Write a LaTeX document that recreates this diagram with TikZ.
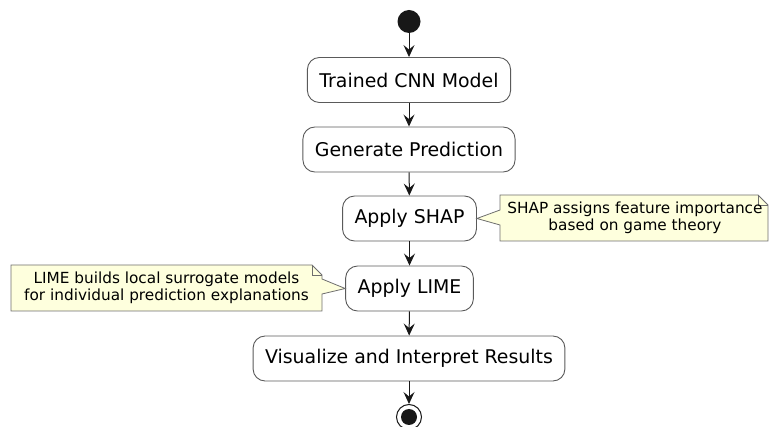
\documentclass[tikz,border=0pt]{standalone}
\usepackage{fontspec}
\setmainfont{DejaVu Sans}
\usetikzlibrary{arrows.meta,calc}

\definecolor{linecol}{HTML}{181818}
\definecolor{boxedge}{HTML}{5A5A5A}
\definecolor{notefill}{HTML}{FEFFDD}
\definecolor{noteedge}{HTML}{6E6E6E}

\tikzset{
  action/.style={draw=boxedge, line width=0.9pt, fill=white, rounded corners=12pt,
    inner xsep=12pt, minimum height=45pt,
    font=\fontsize{18.9pt}{22pt}\selectfont, text=black},
  notetext/.style={inner sep=0pt, align=center,
    font=\fontsize{15.3pt}{17.5pt}\selectfont, text=black},
  noteshape/.style={draw=noteedge, line width=0.8pt, fill=notefill, line join=miter},
  flow/.style={draw=linecol, line width=1pt,
    -{Stealth[length=12pt, width=11pt, inset=4.5pt]}},
  dot/.style={circle, fill=linecol, inner sep=0pt},
}

\begin{document}
\begin{tikzpicture}[x=1pt, y=-1pt]
\useasboundingbox (0,0) rectangle (769,427);

% start and end markers
\node[dot, minimum size=23pt] (start) at (409,21.5) {};
\node[circle, draw=linecol, line width=1pt, minimum size=25pt, inner sep=0pt] (stop) at (409,417) {};
\node[dot, minimum size=16pt] (stopdot) at (stop.center) {};

% activities
\node[action] (cnn)  at (409,80)    {Trained CNN Model};
\node[action] (pred) at (409,149.5) {Generate Prediction};
\node[action] (shap) at (409.5,218.5) {Apply SHAP};
\node[action] (lime) at (409.5,288.5) {Apply LIME};
\node[action] (vis)  at (409,358.5) {Visualize and Interpret Results};

% flow
\draw[flow] (start) -- (cnn);
\draw[flow] (cnn) -- (pred);
\draw[flow] (pred) -- (shap);
\draw[flow] (shap) -- (lime);
\draw[flow] (lime) -- (vis);
\draw[flow] (vis) -- (stop);

% note on SHAP (right side)
\draw[noteshape] (500,195) -- (758,195) -- (768,205) -- (768,241) -- (500,241)
  -- (500,225) -- (shap.east) -- (500,210) -- cycle;
\draw[noteshape, fill=none] (758,195) -- (758,205) -- (768,205);
\node[notetext] (shapnote) at (635,218) {SHAP assigns feature importance\\based on game theory};

% note on LIME (left side)
\draw[noteshape] (11,265) -- (312,265) -- (322,275) -- (322,279) -- (lime.west)
  -- (322,294) -- (322,311) -- (11,311) -- cycle;
\draw[noteshape, fill=none] (312,265) -- (312,275) -- (322,275);
\node[notetext] (limenote) at (166.5,288) {LIME builds local surrogate models\\for individual prediction explanations};
\end{tikzpicture}
\end{document}
